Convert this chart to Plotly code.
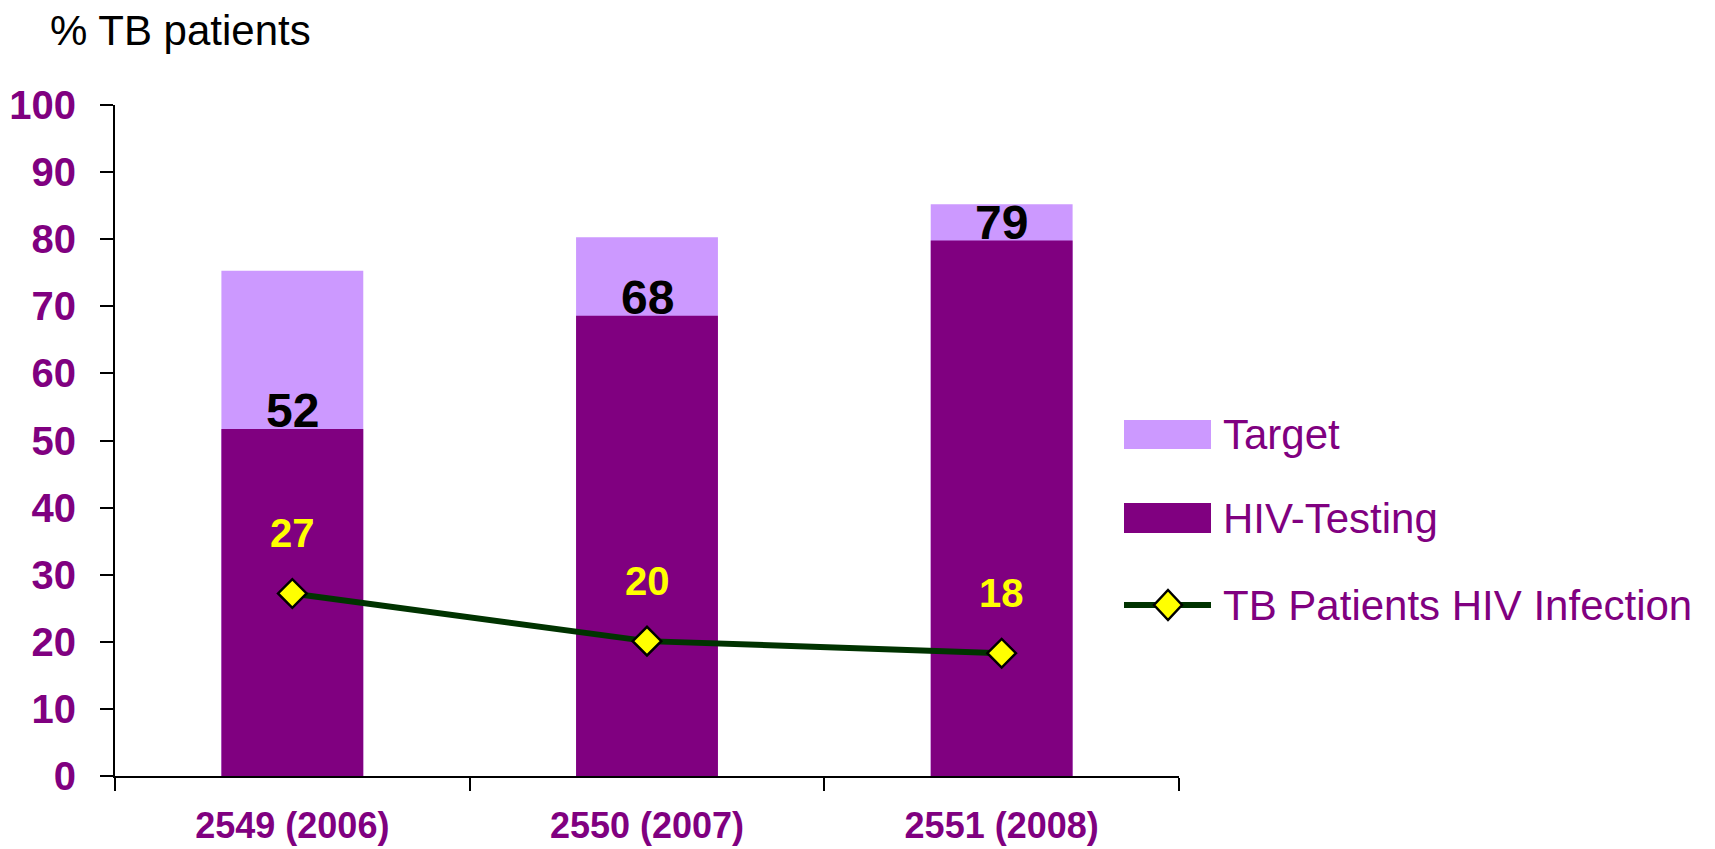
import plotly.graph_objects as go

# ---------------- data ----------------
categories = ["2549 (2006)", "2550 (2007)", "2551 (2008)"]
target = [75.3, 80.3, 85.2]
hiv_testing = [51.7, 68.6, 79.8]
hiv_testing_labels = ["52", "68", "79"]
tb_hiv_infection = [27.2, 20.1, 18.3]
tb_hiv_infection_labels = ["27", "20", "18"]
series_names = ["Target", "HIV-Testing", "TB Patients HIV Infection"]
y_ticks = list(range(0, 101, 10))

# ---------------- style ----------------
PURPLE = "#800080"
LILAC = "#CC99FF"
GREEN = "#003300"
YELLOW = "#FFFF00"
FONT = "Arial, Liberation Sans, sans-serif"

OFF = 8  # default body margin of the html page
W, H = 1715 - 2 * OFF, 849 - OFF
# plot area in page pixels: x 115..1179, y 105..776
L, T = 115 - OFF, 105 - OFF
R = W - (1179 - OFF)
B = H - (776 - OFF)
PW, PH = W - L - R, H - T - B


def px_x(px):
    """page pixel x -> paper coordinate"""
    return (px - OFF - L) / PW


def px_y(py):
    """page pixel y -> paper coordinate"""
    return (H - B - (py - OFF)) / PH


fig = go.Figure()

fig.add_trace(go.Bar(
    x=categories, y=target, name=series_names[0],
    marker=dict(color=LILAC, line=dict(width=0)),
    width=0.4, showlegend=False, hoverinfo="skip",
))
fig.add_trace(go.Bar(
    x=categories, y=hiv_testing, name=series_names[1],
    marker=dict(color=PURPLE, line=dict(width=0)),
    width=0.4, showlegend=False,
))
fig.add_trace(go.Scatter(
    x=categories, y=tb_hiv_infection, name=series_names[2],
    mode="lines+markers",
    line=dict(color=GREEN, width=6),
    marker=dict(symbol="diamond", size=22, color=YELLOW,
                line=dict(color="black", width=2.5)),
    showlegend=False, cliponaxis=False,
))

annotations = []
for c, v, lab in zip(categories, hiv_testing, hiv_testing_labels):
    annotations.append(dict(
        x=c, y=v, xref="x", yref="y", text=f"<b>{lab}</b>", showarrow=False,
        yanchor="bottom", yshift=-10,
        font=dict(family=FONT, size=48, color="black"),
    ))
for c, v, lab in zip(categories, tb_hiv_infection, tb_hiv_infection_labels):
    annotations.append(dict(
        x=c, y=v, xref="x", yref="y", text=f"<b>{lab}</b>", showarrow=False,
        yshift=60, font=dict(family=FONT, size=40, color=YELLOW),
    ))

# title of y axis (top-left)
annotations.append(dict(
    x=px_x(48), y=px_y(30), xref="paper", yref="paper", xanchor="left",
    yanchor="middle", text="% TB patients", showarrow=False,
    font=dict(family=FONT, size=42, color="black"),
))

# ---------------- custom legend ----------------
shapes = []
sw_x0, sw_x1 = px_x(1124), px_x(1211)
text_x = px_x(1221)
legend_rows = [(420, 449), (503, 533)]
for (y0, y1), col, name in zip(legend_rows, [LILAC, PURPLE], series_names[:2]):
    shapes.append(dict(type="rect", xref="paper", yref="paper",
                       x0=sw_x0, x1=sw_x1, y0=px_y(y1), y1=px_y(y0),
                       fillcolor=col, line=dict(width=0)))
    annotations.append(dict(
        x=text_x, y=px_y((y0 + y1) / 2), xref="paper", yref="paper",
        xanchor="left", yanchor="middle", text=name, showarrow=False,
        font=dict(family=FONT, size=42, color=PURPLE),
    ))
ly = 605
shapes.append(dict(type="line", xref="paper", yref="paper",
                   x0=sw_x0, x1=sw_x1, y0=px_y(ly), y1=px_y(ly),
                   line=dict(color=GREEN, width=6)))
shapes.append(dict(type="path", xref="paper", yref="paper",
                   xsizemode="pixel", ysizemode="pixel",
                   xanchor=px_x(1168), yanchor=px_y(ly),
                   path="M0,15 L14,0 L0,-15 L-14,0 Z",
                   fillcolor=YELLOW, line=dict(color="black", width=2.5)))
annotations.append(dict(
    x=text_x, y=px_y(ly), xref="paper", yref="paper",
    xanchor="left", yanchor="middle", text=series_names[2], showarrow=False,
    font=dict(family=FONT, size=42, color=PURPLE),
))

fig.update_layout(
    width=W, height=H,
    margin=dict(l=L, r=R, t=T, b=B, pad=0, autoexpand=False),
    barmode="overlay",
    plot_bgcolor="white", paper_bgcolor="white",
    showlegend=False,
    annotations=annotations,
    shapes=shapes,
)

fig.update_xaxes(
    type="category", tickson="boundaries", ticks="outside", ticklen=13,
    tickwidth=2, tickcolor="black", showline=True, linewidth=2,
    linecolor="black", showgrid=False, zeroline=False, automargin=False,
    tickfont=dict(family=FONT, size=36, color=PURPLE, weight="bold"),
    ticklabelstandoff=17,
)
fig.update_yaxes(
    range=[0, 100], tickvals=y_ticks, ticks="outside", ticklen=13,
    tickwidth=2, tickcolor="black", showline=True, linewidth=2,
    linecolor="black", showgrid=False, zeroline=False, automargin=False,
    tickfont=dict(family=FONT, size=40, color=PURPLE, weight="bold"),
    ticklabelstandoff=16,
)

fig.write_html("out.html")
